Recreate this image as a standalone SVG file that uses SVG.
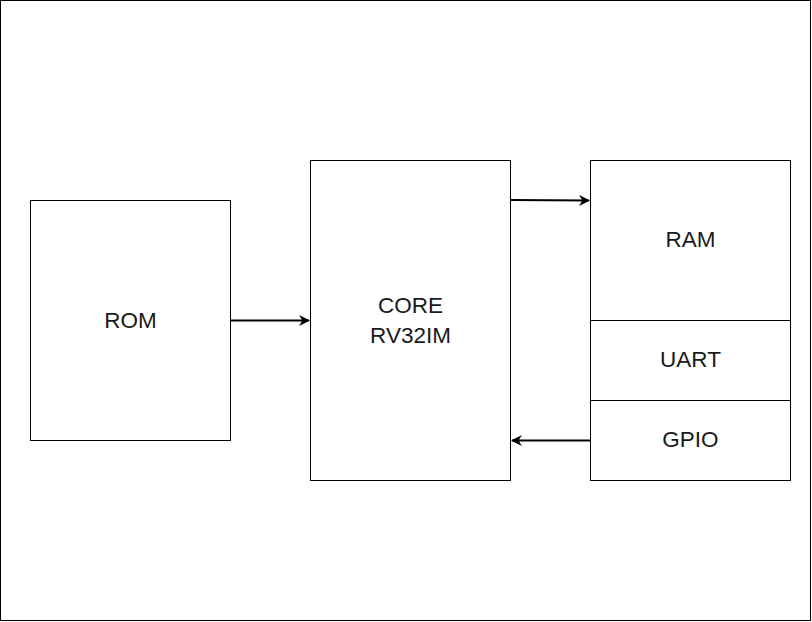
<svg xmlns="http://www.w3.org/2000/svg" width="812" height="622" viewBox="0 0 812 622">
<style>
.box{fill:#fff;stroke:#000;stroke-width:1}
.lbl{font-family:"Liberation Sans",Arial,sans-serif;font-size:22.5px;fill:#1a1a1a;text-anchor:middle}
.edge{stroke:#000;stroke-width:2;fill:none}
</style>
<defs>
<marker id="arr" viewBox="0 0 10 10" refX="9" refY="5" markerWidth="5.5" markerHeight="5.5" orient="auto" markerUnits="strokeWidth">
<path d="M0,0 L10,5 L0,10 L3,5 Z" fill="#000"/>
</marker>
</defs>
<rect x="0.5" y="0.5" width="810" height="620" fill="#fff" stroke="#000"/>
<g id="rom"><rect class="box" x="30.5" y="200.5" width="200" height="240"/><text class="lbl" x="130.5" y="328">ROM</text></g>
<g id="core"><rect class="box" x="310.5" y="160.5" width="200" height="320"/><text class="lbl" x="410.5" y="313">CORE</text><text class="lbl" x="410.5" y="343">RV32IM</text></g>
<g id="ram"><rect class="box" x="590.5" y="160.5" width="200" height="160"/><text class="lbl" x="690.5" y="247">RAM</text></g>
<g id="uart"><rect class="box" x="590.5" y="320.5" width="200" height="80"/><text class="lbl" x="690.5" y="367">UART</text></g>
<g id="gpio"><rect class="box" x="590.5" y="400.5" width="200" height="80"/><text class="lbl" x="690.5" y="447">GPIO</text></g>
<g id="connectors">
<line class="edge" x1="231" y1="320.5" x2="309" y2="320.5" marker-end="url(#arr)"/>
<line class="edge" x1="511" y1="200" x2="589" y2="200.5" marker-end="url(#arr)"/>
<line class="edge" x1="590" y1="440.5" x2="512" y2="440.5" marker-end="url(#arr)"/>
</g>
</svg>
